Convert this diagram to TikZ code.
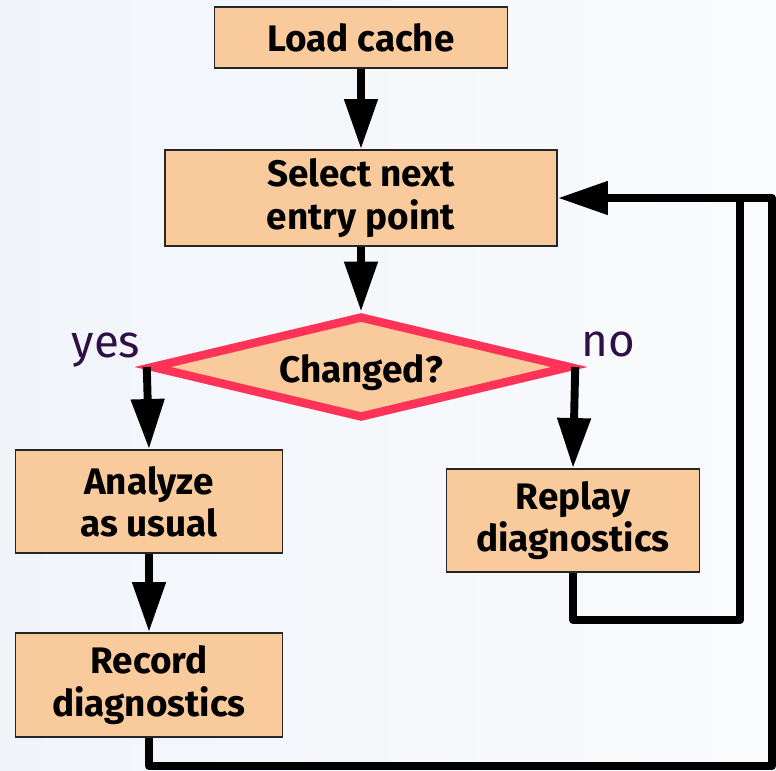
\documentclass[tikz,border=0pt]{standalone}
\usepackage{fontspec}
\setmainfont{Fira Sans}
\usepackage{tikz}
\usetikzlibrary{shapes,shapes.geometric}
\usetikzlibrary{arrows.meta}
\definecolor{peach}{HTML}{F8CA9C}
\definecolor{hotpink}{HTML}{FF3358}
\definecolor{plum}{HTML}{2E1045}
\definecolor{paleleft}{HTML}{F1F5FA}
\definecolor{paleright}{HTML}{FAFBFD}
\tikzset{
	stepbox/.style={draw=black!85,line width=1.1pt,fill=peach,align=center,inner sep=0pt,font=\fontsize{21}{24}\selectfont\bfseries},
	flow/.style={line width=4.5pt,line join=round,-{Triangle[length=1cm,width=0.64cm]}},
	loop/.style={line width=4.5pt,line join=round},
	answer/.style={text=plum,font=\fontsize{26}{30}\selectfont}
}

\begin{document}
\begin{tikzpicture}
			\shade[left color=paleleft,right color=paleright] (0,0) rectangle (15.52,-15.4);
			\useasboundingbox (0,0) rectangle (15.52,-15.4);
			\node[stepbox,minimum width=5.86cm,minimum height=1.22cm] (load) at (7.22,-0.75) {Load cache};
			\node[stepbox,minimum width=7.84cm,minimum height=1.92cm] (select) at (7.22,-3.96) {Select next\\entry point};
			\node[diamond,aspect=4.04,draw=hotpink,line width=4.8pt,fill=peach,minimum width=8.4cm,minimum height=2.05cm,inner sep=0pt,font=\fontsize{21}{24}\selectfont\bfseries] (changed) at (7.22,-7.34) {\raisebox{-0.12cm}[\height][\depth]{Changed?}};
			\node[stepbox,minimum width=5.34cm,minimum height=2.06cm] (analyze) at (2.98,-10.03) {Analyze\\as usual};
			\node[stepbox,minimum width=5.06cm,minimum height=2.06cm] (replay) at (11.46,-10.41) {Replay\\diagnostics};
			\node[stepbox,minimum width=5.34cm,minimum height=2.08cm] (record) at (2.98,-13.7) {Record\\diagnostics};
			\node[answer] (yes) at (2.12,-7.0) {yes};
			\node[answer] (no) at (12.16,-6.88) {no};
			\coordinate (tee) at (14.8,-12.4);
			\coordinate (join) at (14.8,-3.96);
			\coordinate (rail) at (15.44,-15.32);
			\draw[flow] (load) -- (select);
			\draw[flow] (select) -- (changed);
			\draw[flow] (changed.west) -- (analyze.north);
			\draw[flow] (changed.east) -- (replay.north);
			\draw[flow] (analyze) -- (record);
			\draw[loop] (replay.south) |- (tee) -- (join);
			\draw[flow] (record.south) |- (rail) |- (select.east);
\end{tikzpicture}
\end{document}
